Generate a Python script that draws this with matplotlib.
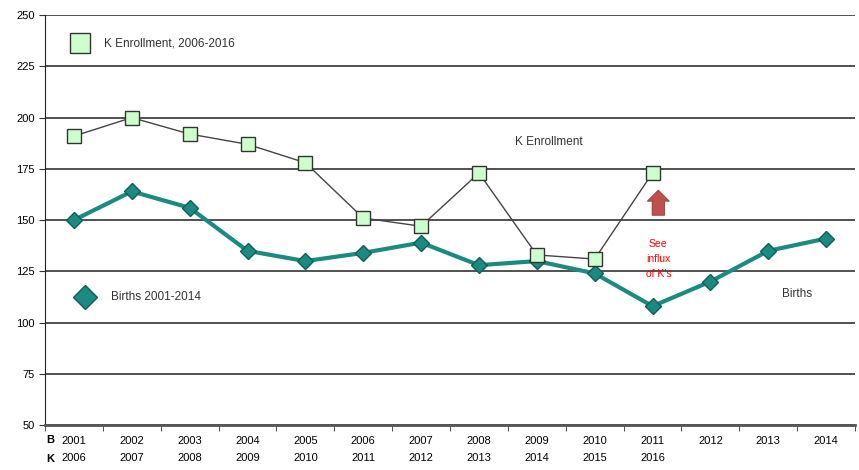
import matplotlib.pyplot as plt
import numpy as np

plt.rcParams['font.family'] = ['Liberation Sans', 'DejaVu Sans']

birth_years = ['2001', '2002', '2003', '2004', '2005', '2006', '2007',
               '2008', '2009', '2010', '2011', '2012', '2013', '2014']
k_years = ['2006', '2007', '2008', '2009', '2010', '2011', '2012',
           '2013', '2014', '2015', '2016']
k_enrollment = [191, 200, 192, 187, 178, 151, 147, 173, 133, 131, 173]
births = [150, 164, 156, 135, 130, 134, 139, 128, 130, 124, 108, 120, 135, 141]

TEAL = '#1b8a80'
LIGHT_GREEN = '#ccffcc'

fig = plt.figure(figsize=(8.59, 4.70), dpi=100)
ax = fig.add_axes([0.0524, 0.0957, 0.943, 0.872])

x_births = np.arange(len(births))
x_k = np.arange(len(k_enrollment))

ax.plot(x_births, births, color=TEAL, lw=3, marker='D', markersize=8,
        markerfacecolor=TEAL, markeredgecolor='#0f5f58', zorder=3)
ax.plot(x_k, k_enrollment, color='#444444', lw=1, marker='s', markersize=10,
        markerfacecolor=LIGHT_GREEN, markeredgecolor='#333333', zorder=4)

ax.set_xlim(-0.5, len(births) - 0.5)
ax.set_ylim(50, 250)
ax.set_yticks(np.arange(50, 251, 25))
ax.yaxis.grid(True, color='#222222', lw=1.1)
ax.set_axisbelow(True)

labels = []
for i, b in enumerate(birth_years):
    if i < len(k_years):
        labels.append(b + '\n' + k_years[i])
    else:
        labels.append(b)
ax.set_xticks(x_births)
ax.set_xticklabels(labels, fontsize=8, linespacing=1.9)
ax.set_xticks(np.arange(-0.5, len(births)), minor=True)
ax.tick_params(axis='x', which='major', length=0, pad=8)
ax.tick_params(axis='x', which='minor', length=4, color='#333333')
ax.tick_params(axis='y', labelsize=8, length=4, color='#333333')

for side in ['top', 'right']:
    ax.spines[side].set_visible(False)
ax.spines['bottom'].set_color('#555555')
ax.spines['bottom'].set_linewidth(2)
ax.spines['left'].set_color('#222222')

# row markers under the axis
ax.text(-0.47, -0.037, 'B', transform=ax.get_xaxis_transform(), fontsize=8,
        ha='left', va='center', fontweight='bold')
ax.text(-0.47, -0.083, 'K', transform=ax.get_xaxis_transform(), fontsize=8,
        ha='left', va='center', fontweight='bold')

# legend-like labels
ax.plot([0.043], [0.932], transform=ax.transAxes, marker='s', markersize=14,
        markerfacecolor=LIGHT_GREEN, markeredgecolor='#333333', clip_on=False)
ax.text(0.073, 0.932, 'K Enrollment, 2006-2016', transform=ax.transAxes,
        fontsize=8.5, va='center', color='#333333')
ax.plot([0.049], [0.312], transform=ax.transAxes, marker='D', markersize=12,
        markerfacecolor=TEAL, markeredgecolor='#0f5f58', clip_on=False)
ax.text(0.081, 0.312, 'Births 2001-2014', transform=ax.transAxes,
        fontsize=8.5, va='center', color='#333333')

ax.text(8.2, 188, 'K Enrollment', fontsize=8.5, ha='center', va='center',
        color='#333333')
ax.text(12.5, 114, 'Births', fontsize=8.5, ha='center', va='center',
        color='#333333')

ax.annotate('', xy=(10.1, 166), xytext=(10.1, 151),
            arrowprops=dict(arrowstyle='simple,head_width=1.6,head_length=0.8,tail_width=0.9',
                            facecolor='#c0504d', edgecolor='#8b2e2b', lw=0.5))
ax.text(10.1, 131, "See\ninflux\nof K's", fontsize=7.5, ha='center', va='center',
        color='red', linespacing=1.6)

fig.savefig('out.png', dpi=100)
